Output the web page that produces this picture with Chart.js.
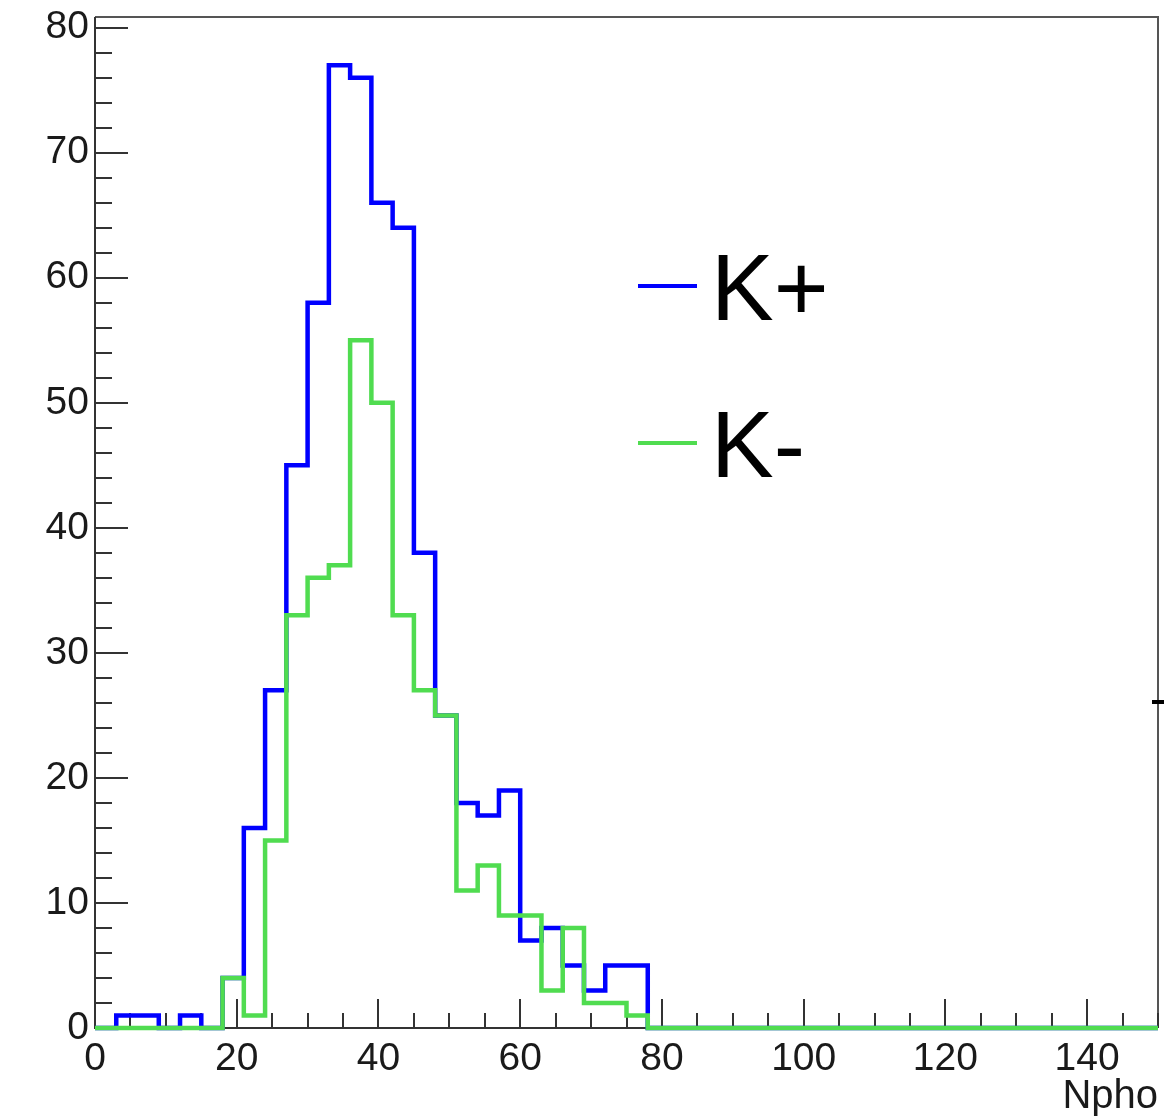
<!DOCTYPE html>
<html>
<head>
<meta charset="utf-8">
<script src="https://cdn.jsdelivr.net/npm/chart.js@4.4.0/dist/chart.umd.min.js"></script>
<style>
  html, body { margin: 0; padding: 0; background: #fff; }
  #box { width: 1164px; height: 1119px; position: relative; }
</style>
</head>
<body>
<div id="box"><canvas id="myChart" width="1164" height="1119"></canvas></div>
<script>
// histogram bins (lower edge of each bin, width 3), upper edge of last bin
var binLow = [0, 3, 6, 9, 12, 15, 18, 21, 24, 27,
              30, 33, 36, 39, 42, 45, 48, 51, 54, 57,
              60, 63, 66, 69, 72, 75, 78, 81, 84, 87,
              90, 93, 96, 99, 102, 105, 108, 111, 114, 117,
              120, 123, 126, 129, 132, 135, 138, 141, 144, 147];
var binHigh = 150;

// counts per bin
var kPlus = [0, 1, 1, 0, 1, 0, 4, 16, 27, 45,
             58, 77, 76, 66, 64, 38, 25, 18, 17, 19,
             7, 8, 5, 3, 5, 5, 0, 0, 0, 0,
             0, 0, 0, 0, 0, 0, 0, 0, 0, 0,
             0, 0, 0, 0, 0, 0, 0, 0, 0, 0];
var kMinus = [0, 0, 0, 0, 0, 0, 4, 1, 15, 33,
              36, 37, 55, 50, 33, 27, 25, 11, 13, 9,
              9, 3, 8, 2, 2, 1, 0, 0, 0, 0,
              0, 0, 0, 0, 0, 0, 0, 0, 0, 0,
              0, 0, 0, 0, 0, 0, 0, 0, 0, 0];

var seriesNames = ['K+', 'K-'];
var xTitle = 'Npho';
var yTop = 80.85;

var FONT = '"Liberation Sans", Arial, Helvetica, sans-serif';

// make step points for a histogram outline
function histPoints(vals) {
  var pts = [];
  for (var i = 0; i < binLow.length; i++) {
    pts.push({ x: binLow[i], y: vals[i] });
  }
  pts.push({ x: binHigh, y: vals[vals.length - 1] });
  return pts;
}

// ROOT like frame with inward ticks
var rootFrame = {
  id: 'rootFrame',
  beforeDatasetsDraw: function(chart) {
    var ctx = chart.ctx;
    var a = chart.chartArea;
    var xs = chart.scales.x;
    var ys = chart.scales.y;
    ctx.save();
    ctx.lineCap = 'butt';
    // top + right border
    ctx.strokeStyle = '#555';
    ctx.lineWidth = 2;
    ctx.beginPath();
    ctx.moveTo(a.left, a.top);
    ctx.lineTo(a.right, a.top);
    ctx.lineTo(a.right, a.bottom);
    ctx.stroke();
    // axes
    ctx.strokeStyle = '#333';
    ctx.beginPath();
    ctx.moveTo(a.left, a.top);
    ctx.lineTo(a.left, a.bottom);
    ctx.lineTo(a.right, a.bottom);
    ctx.stroke();
    // y ticks
    ctx.beginPath();
    ys.ticks.forEach(function(t) {
      var py = Math.round(ys.getPixelForValue(t.value));
      var len = (t.value % 10 === 0) ? 33 : 17;
      ctx.moveTo(a.left, py);
      ctx.lineTo(a.left + len, py);
    });
    // x ticks
    xs.ticks.forEach(function(t) {
      var px = Math.round(xs.getPixelForValue(t.value));
      var len = (t.value % 20 === 0) ? 29 : 15;
      ctx.moveTo(px, a.bottom);
      ctx.lineTo(px, a.bottom - len);
    });
    ctx.stroke();
    ctx.restore();
  },
  afterDraw: function(chart) {
    var ctx = chart.ctx;
    ctx.save();
    // legend inside the frame
    chart.data.datasets.forEach(function(ds, i) {
      var yy = 286 + i * 157;
      ctx.strokeStyle = ds.borderColor;
      ctx.lineWidth = 4;
      ctx.beginPath();
      ctx.moveTo(638, yy);
      ctx.lineTo(697, yy);
      ctx.stroke();
      ctx.fillStyle = '#000';
      ctx.font = '94px ' + FONT;
      ctx.textAlign = 'left';
      ctx.textBaseline = 'alphabetic';
      ctx.fillText(ds.label, 711, yy + 34);
    });
    // little mark at the right edge
    ctx.fillStyle = '#000';
    ctx.fillRect(1152, 700, 12, 4);
    ctx.restore();
  }
};

const ctx = document.getElementById('myChart').getContext('2d');
const myChart = new Chart(ctx, {
  type: 'line',
  data: {
    datasets: [{
      label: seriesNames[0],
      data: histPoints(kPlus),
      borderColor: '#0000ff',
      borderWidth: 4.5,
      stepped: 'before',
      pointRadius: 0,
      fill: false,
      clip: false,
      order: 2
    }, {
      label: seriesNames[1],
      data: histPoints(kMinus),
      borderColor: '#50dc50',
      borderWidth: 4.5,
      stepped: 'before',
      pointRadius: 0,
      fill: false,
      clip: false,
      order: 1
    }]
  },
  options: {
    responsive: false,
    animation: false,
    events: [],
    layout: { padding: { top: 17, right: 6, left: 0, bottom: 0 } },
    plugins: {
      legend: { display: false },
      tooltip: { enabled: false }
    },
    scales: {
      x: {
        type: 'linear',
        min: 0,
        max: binHigh,
        grid: { display: false, drawTicks: false },
        border: { display: false },
        ticks: {
          stepSize: 5,
          includeBounds: false,
          autoSkip: false,
          maxRotation: 0,
          padding: 8,
          color: '#1a1a1a',
          font: { family: FONT, size: 39 },
          callback: function(v) { return v % 20 === 0 ? String(v) : ''; }
        },
        title: {
          display: true,
          text: xTitle,
          align: 'end',
          color: '#1a1a1a',
          font: { family: FONT, size: 40 },
          padding: { top: 0, bottom: -2 }
        },
        afterFit: function(s) {
          s.height = 91;
          s.paddingLeft = 0;
          s.paddingRight = 0;
        }
      },
      y: {
        type: 'linear',
        min: 0,
        max: yTop,
        grid: { display: false, drawTicks: false },
        border: { display: false },
        ticks: {
          stepSize: 2,
          includeBounds: false,
          autoSkip: false,
          padding: 6,
          color: '#1a1a1a',
          font: { family: FONT, size: 39 },
          callback: function(v) { return v % 10 === 0 ? String(v) : ''; }
        },
        afterFit: function(s) {
          s.width = 95;
          s.paddingTop = 0;
          s.paddingBottom = 0;
        }
      }
    }
  },
  plugins: [rootFrame]
});
</script>
</body>
</html>
